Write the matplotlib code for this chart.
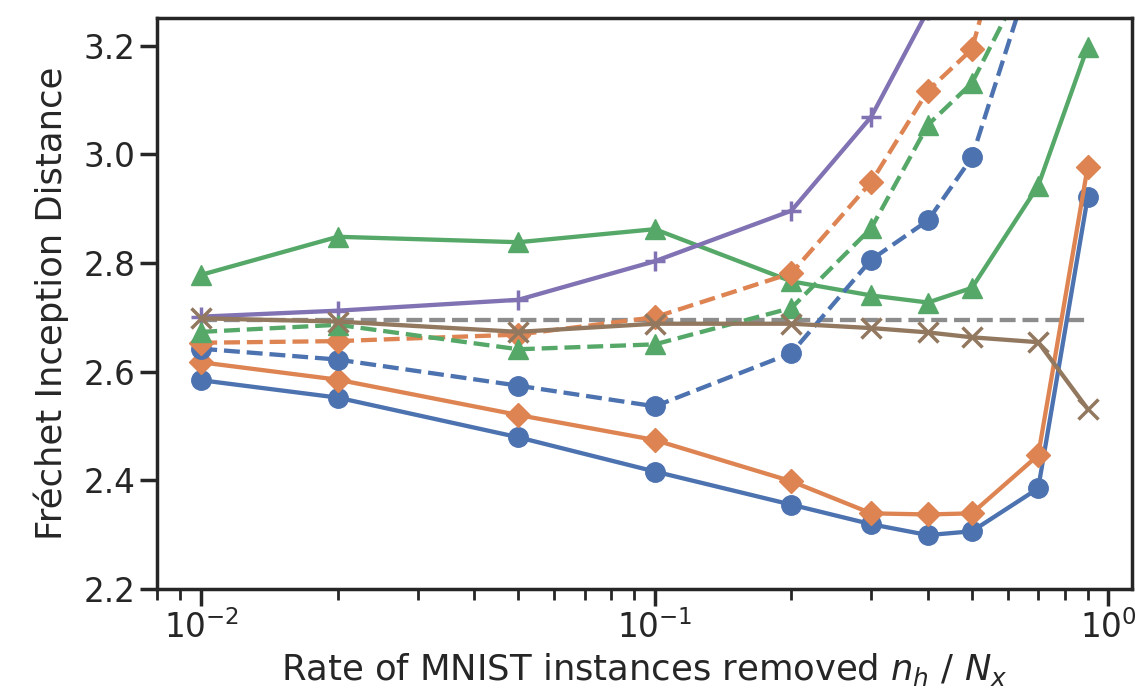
import matplotlib
matplotlib.use("Agg")
import matplotlib.pyplot as plt
import seaborn as sns

sns.set_theme(context="poster", style="ticks")
plt.rcParams['font.family'] = ['DejaVu Sans']
plt.rcParams['xtick.labelsize'] = 23.5
plt.rcParams['ytick.labelsize'] = 23.5
plt.rcParams['axes.labelsize'] = 25.5

x = [0.01, 0.02, 0.05, 0.1, 0.2, 0.3, 0.4, 0.5, 0.7, 0.9]

blue_solid = [2.584, 2.552, 2.479, 2.416, 2.355, 2.319, 2.299, 2.306, 2.385, 2.921]
orange_solid = [2.617, 2.585, 2.520, 2.474, 2.398, 2.339, 2.337, 2.339, 2.446, 2.977]
green_solid = [2.778, 2.848, 2.838, 2.862, 2.766, 2.740, 2.727, 2.754, 2.942, 3.198]
purple_solid = [2.701, 2.712, 2.732, 2.803, 2.896, 3.069, 3.265]
blue_dashed = [2.642, 2.622, 2.574, 2.536, 2.634, 2.806, 2.878, 2.994, 3.375]
orange_dashed = [2.653, 2.656, 2.668, 2.700, 2.781, 2.949, 3.117, 3.193, 3.64]
green_dashed = [2.673, 2.686, 2.641, 2.650, 2.717, 2.864, 3.054, 3.131, 3.37]
brown_solid = [2.698, 2.692, 2.673, 2.688, 2.688, 2.680, 2.672, 2.663, 2.654, 2.531]
baseline = [2.695, 2.695]
baseline_x = [0.01, 0.9]

c_blue, c_orange, c_green = "#4C72B0", "#DD8452", "#55A868"
c_purple, c_brown, c_gray = "#8172B3", "#937860", "#8C8C8C"

fig = plt.figure(figsize=(11.36, 6.92), dpi=100)
ax = fig.add_axes([0.138, 0.149, 0.9965 - 0.138, 0.9735 - 0.149])

lw = 3.1
ax.plot(baseline_x, baseline, color=c_gray, ls="--", lw=lw)
ax.plot(x, blue_solid, color=c_blue, marker="o", ls="-", lw=lw, ms=14)
ax.plot(x, orange_solid, color=c_orange, marker="D", ls="-", lw=lw, ms=12.5)
ax.plot(x, green_solid, color=c_green, marker="^", ls="-", lw=lw, ms=15)
ax.plot(x[:len(purple_solid)], purple_solid, color=c_purple, marker="+", ls="-",
        lw=lw, ms=15, mew=2.5)
ax.plot(x[:len(blue_dashed)], blue_dashed, color=c_blue, marker="o", ls="--", lw=lw, ms=14)
ax.plot(x[:len(orange_dashed)], orange_dashed, color=c_orange, marker="D", ls="--",
        lw=lw, ms=12.5)
ax.plot(x[:len(green_dashed)], green_dashed, color=c_green, marker="^", ls="--", lw=lw, ms=15)
ax.plot(x, brown_solid, color=c_brown, marker="x", ls="-", lw=lw, ms=14, mew=2.5)

ax.set_xscale("log")
ax.set_xlim(0.00798, 1.127)
ax.set_ylim(2.2, 3.25)
ax.set_yticks([2.2, 2.4, 2.6, 2.8, 3.0, 3.2])
ax.set_ylabel("Fréchet Inception Distance", labelpad=10)
ax.set_xlabel("Rate of MNIST instances removed $n_h$ / $N_x$")

fig.savefig("out.png", dpi=100)
